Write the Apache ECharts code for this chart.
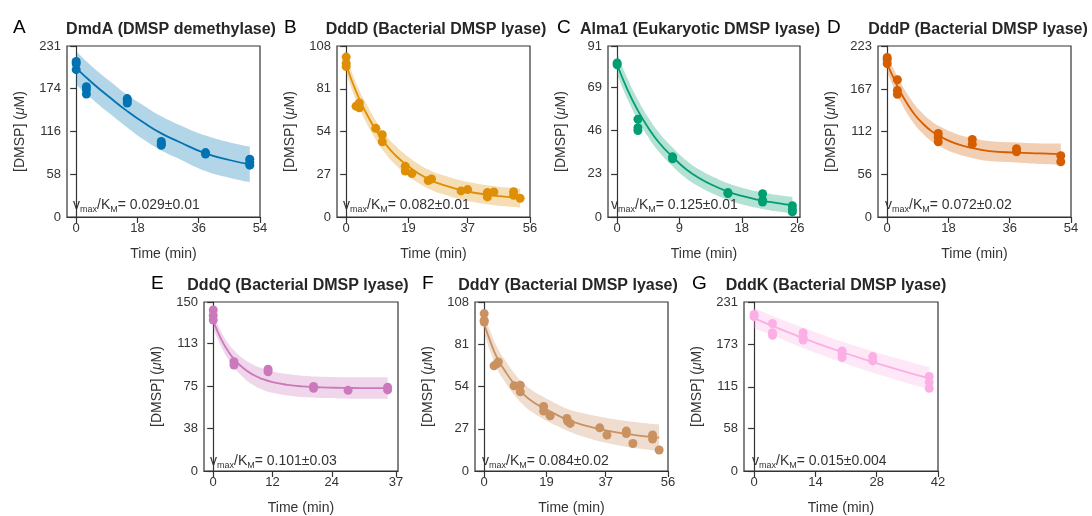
<!DOCTYPE html>
<html>
<head>
<meta charset="utf-8">
<script src="https://cdn.jsdelivr.net/npm/echarts@6/dist/echarts.min.js"></script>
<style>
  html, body { margin: 0; padding: 0; background: #fff; }
  #chart { width: 1092px; height: 516px; }
</style>
</head>
<body>
<div id="chart"></div>
<script>
// ---- data ----
var titles = ['DmdA (DMSP demethylase)', 'DddD (Bacterial DMSP lyase)', 'Alma1 (Eukaryotic DMSP lyase)',
  'DddP (Bacterial DMSP lyase)', 'DddQ (Bacterial DMSP lyase)', 'DddY (Bacterial DMSP lyase)', 'DddK (Bacterial DMSP lyase)'];
var letters = ['A', 'B', 'C', 'D', 'E', 'F', 'G'];
var rates = ['0.029±0.01', '0.082±0.01', '0.125±0.01', '0.072±0.02', '0.101±0.03', '0.084±0.02', '0.015±0.004'];
var colors = ['#0173B2', '#DE8F05', '#029E73', '#D55E00', '#CC78BC', '#CA9161', '#FBAFE4'];

// DmdA
var dmdaPtT = [0, 0, 0, 3, 3, 3, 15, 15, 15, 25, 25, 25, 38, 38, 51, 51, 51];
var dmdaPtY = [210, 207, 199, 176, 172, 166, 160, 157, 154, 102, 99, 97, 87, 85, 78, 74, 70];
var dmdaFitT = [0, 5, 10, 15, 20, 25, 30, 38, 45, 51];
var dmdaFit = [201, 180, 161, 143, 127, 113, 102, 86, 77, 71];
var dmdaHi = [224, 202, 183, 165, 150, 136, 125, 110, 101, 95];
var dmdaLo = [179, 158, 139, 121, 104, 90, 79, 62, 53, 47];
var dmdaXTicks = [0, 18, 36, 54];
var dmdaYTicks = [0, 58, 116, 174, 231];

// DddD
var dddDPtT = [0, 0, 0, 3, 4, 4, 9, 11, 11, 18, 18, 20, 25, 26, 35, 37, 43, 43, 45, 51, 51, 53];
var dddDPtY = [101, 97, 95, 70, 72, 69, 56, 52, 47.5, 32, 29, 27.5, 23, 24, 16.5, 17.3, 15.4, 12.7, 15.8, 16, 13.7, 11.8];
var dddDFitT = [0, 2, 4, 6, 9, 12, 15, 18, 22, 26, 30, 35, 40, 45, 50, 53];
var dddDFit = [96, 84.5, 74.5, 66, 55, 46, 39, 33.5, 27.5, 23, 20, 17, 15, 13.5, 12.5, 12];
var dddDHi = [101, 90, 80, 72, 61, 52, 45, 39.5, 33.5, 29, 26, 23, 21, 19.5, 18.5, 18];
var dddDLo = [91, 79, 69, 60, 49, 40, 33, 27.5, 21.5, 17, 14, 11, 9, 7.5, 6.5, 6];
var dddDXTicks = [0, 19, 37, 56];
var dddDYTicks = [0, 27, 54, 81, 108];

// Alma1
var almaPtT = [0, 0, 3, 3, 3, 8, 8, 16, 16, 21, 21, 21, 25.3, 25.3, 25.3];
var almaPtY = [82, 81, 52, 47.5, 46, 32, 31, 13, 12.5, 12.4, 9, 8, 6, 4, 2.7];
var almaFitT = [0, 1.5, 3, 4.5, 6, 8, 10, 12, 14, 16, 18, 20, 22, 24, 25.3];
var almaFit = [81, 67.7, 56.6, 47.4, 39.8, 32, 25.3, 20.4, 16.6, 13.5, 11.2, 9.4, 8, 6.9, 6.3];
var almaHi = [87, 73.7, 62.4, 52.9, 45.1, 37, 30.1, 25, 21.1, 17.9, 15.6, 13.8, 12.4, 11.3, 10.7];
var almaLo = [76, 62.7, 51.6, 42.4, 34.8, 27, 20.5, 15.8, 12.1, 9.1, 6.8, 5, 3.6, 2.5, 1.9];
var almaXTicks = [0, 9, 18, 26];
var almaYTicks = [0, 23, 46, 69, 91];

// DddP
var dddPPtT = [0, 0, 0, 3, 3, 3, 15, 15, 15, 25, 25, 38, 38, 51, 51];
var dddPPtY = [208, 205, 200, 179, 165, 160, 109, 104, 98, 101, 95, 89, 85, 80, 72];
var dddPFitT = [0, 2, 4, 6, 8, 10, 13, 16, 20, 25, 30, 38, 45, 51];
var dddPFit = [200, 180, 162, 147, 134, 124, 112, 104, 96, 90, 86, 84, 83, 82];
var dddPHi = [211, 192, 175, 160, 147, 137, 125, 117, 109, 103, 99, 97, 96, 96];
var dddPLo = [189, 168, 150, 134, 121, 111, 99, 91, 83, 77, 73, 71, 69, 68];
var dddPXTicks = [0, 18, 36, 54];
var dddPYTicks = [0, 56, 112, 167, 223];

// DddQ
var dddQPtT = [0, 0, 0, 4.2, 4.2, 11.1, 11.1, 20.3, 20.3, 27.3, 35.3, 35.3];
var dddQPtY = [143, 138, 134, 97, 94, 90.4, 88, 75, 73.4, 71.6, 74.3, 72];
var dddQFitT = [0, 1, 2, 3, 4, 6, 8, 10, 12, 15, 18, 22, 26, 30, 35.3];
var dddQFit = [133, 122.6, 113.7, 106.4, 100.4, 91.6, 85.6, 81.6, 78.9, 76.5, 75.1, 74.2, 73.8, 73.6, 73.5];
var dddQHi = [139, 129, 120.5, 113.5, 108, 100, 94.5, 91, 88.4, 86, 84.6, 83.7, 83.3, 83.1, 83];
var dddQLo = [127, 116, 107, 99.5, 93, 83.5, 76.5, 72.2, 69.4, 67, 65.6, 64.7, 64.3, 64.1, 64];
var dddQXTicks = [0, 12, 24, 37];
var dddQYTicks = [0, 38, 75, 113, 150];

// DddY
var dddYPtT = [0, 0, 0, 3, 4, 4.3, 9.1, 11, 11, 18.1, 18.1, 20.1, 25.2, 25.4, 26.2, 35.2, 37.4, 43.3, 43.3, 45.3, 51.3, 51.3, 53.3];
var dddYPtY = [100.6, 96.3, 95.2, 67.2, 68.7, 69.7, 54.4, 54.8, 50.6, 41.2, 38.3, 35.3, 33.6, 31.9, 30.4, 27.6, 23, 25.5, 24, 17.6, 23, 20.4, 13.4];
var dddYFitT = [0, 2, 4, 6, 9, 12, 15, 18, 22, 25, 30, 37, 44, 50, 53.3];
var dddYFit = [94, 82, 72, 65, 56, 49, 44, 40.4, 36, 33, 29.5, 26, 23.5, 22, 21.3];
var dddYHi = [100, 88.5, 79, 72, 63, 56, 51, 47.5, 43, 40, 37, 34, 31.8, 30.4, 29.8];
var dddYLo = [88, 75.5, 65, 58, 49, 42, 37, 33.3, 29, 26, 22, 18, 15.2, 13.6, 12.8];
var dddYXTicks = [0, 19, 37, 56];
var dddYYTicks = [0, 27, 54, 81, 108];

// DddK
var dddKPtT = [0, 0, 4.2, 4.2, 4.2, 11.2, 11.2, 11.2, 20.1, 20.1, 20.1, 27.1, 27.1, 40, 40, 40];
var dddKPtY = [214, 211, 201.6, 189, 185.4, 189, 182.3, 179, 164, 159.6, 155, 156.4, 150.5, 129.3, 121.2, 113];
var dddKFitT = [0, 5, 10, 15, 20, 25, 30, 35, 40];
var dddKFit = [209, 196.3, 184.4, 173.2, 162.8, 152.9, 143.6, 134.9, 126.7];
var dddKHi = [223, 210, 198.5, 187.5, 177, 167.5, 158.5, 150, 142];
var dddKLo = [195, 183, 171, 159.5, 148.5, 138.5, 129, 120, 112];
var dddKXTicks = [0, 14, 28, 42];
var dddKYTicks = [0, 58, 115, 173, 231];

// ---- layout ----
var panels = [
  { ptT: dmdaPtT, ptY: dmdaPtY, fitT: dmdaFitT, fit: dmdaFit, hi: dmdaHi, lo: dmdaLo, xt: dmdaXTicks, yt: dmdaYTicks, xmin: -2.7, xmax: 54,
    left: 67, top: 46, width: 193, titleX: 171, letterX: 13, noteX: 73 },
  { ptT: dddDPtT, ptY: dddDPtY, fitT: dddDFitT, fit: dddDFit, hi: dddDHi, lo: dddDLo, xt: dddDXTicks, yt: dddDYTicks, xmin: -2.8, xmax: 56,
    left: 337, top: 46, width: 193, titleX: 436, letterX: 284, noteX: 343 },
  { ptT: almaPtT, ptY: almaPtY, fitT: almaFitT, fit: almaFit, hi: almaHi, lo: almaLo, xt: almaXTicks, yt: almaYTicks, xmin: -1.32, xmax: 26.4,
    left: 608, top: 46, width: 192, titleX: 700, letterX: 557, noteX: 611 },
  { ptT: dddPPtT, ptY: dddPPtY, fitT: dddPFitT, fit: dddPFit, hi: dddPHi, lo: dddPLo, xt: dddPXTicks, yt: dddPYTicks, xmin: -2.7, xmax: 54,
    left: 878, top: 46, width: 193, titleX: 978, letterX: 827, noteX: 885 },
  { ptT: dddQPtT, ptY: dddQPtY, fitT: dddQFitT, fit: dddQFit, hi: dddQHi, lo: dddQLo, xt: dddQXTicks, yt: dddQYTicks, xmin: -1.87, xmax: 37.4,
    left: 204, top: 302, width: 194, titleX: 298, letterX: 151, noteX: 210 },
  { ptT: dddYPtT, ptY: dddYPtY, fitT: dddYFitT, fit: dddYFit, hi: dddYHi, lo: dddYLo, xt: dddYXTicks, yt: dddYYTicks, xmin: -2.8, xmax: 56,
    left: 475, top: 302, width: 193, titleX: 568, letterX: 422, noteX: 482 },
  { ptT: dddKPtT, ptY: dddKPtY, fitT: dddKFitT, fit: dddKFit, hi: dddKHi, lo: dddKLo, xt: dddKXTicks, yt: dddKYTicks, xmin: -2.3, xmax: 42,
    left: 744, top: 302, width: 194, titleX: 836, letterX: 692, noteX: 752 }
];

var FONT = '"Liberation Sans", Arial, Helvetica, sans-serif';
var INK = '#333';
var plotH = 171;

function pairs(xs, ys) {
  return xs.map(function (x, i) { return [x, ys[i]]; });
}

// value first, time second, so the stack sums the y values
function bandRows(ts, vs) {
  return ts.map(function (t, i) { return [vs[i], t]; });
}

function hexAlpha(hex, a) {
  var n = parseInt(hex.slice(1), 16);
  return 'rgba(' + (n >> 16) + ',' + ((n >> 8) & 255) + ',' + (n & 255) + ',' + a + ')';
}

var grids = [], xAxes = [], yAxes = [], series = [], graphics = [];

panels.forEach(function (p, i) {
  var c = colors[i];
  grids.push({
    left: p.left, top: p.top, width: p.width, height: plotH,
    show: true, borderColor: INK, borderWidth: 1.2, backgroundColor: 'transparent'
  });
  xAxes.push({
    type: 'value', gridIndex: i, min: p.xmin, max: p.xmax,
    splitLine: { show: false },
    axisLine: { show: true, lineStyle: { color: INK, width: 1.2 } },
    axisTick: { show: true, length: 6, customValues: p.xt, lineStyle: { color: INK, width: 1.2 } },
    axisLabel: { customValues: p.xt, fontSize: 13, color: INK, margin: 5, fontFamily: FONT },
    name: 'Time (min)', nameLocation: 'middle', nameGap: 30,
    nameTextStyle: { fontSize: 14, color: INK, fontFamily: FONT }
  });
  yAxes.push({
    type: 'value', gridIndex: i, min: 0, max: p.yt[p.yt.length - 1],
    splitLine: { show: false },
    axisLine: { show: true, lineStyle: { color: INK, width: 1.2 } },
    axisTick: { show: true, length: 6, customValues: p.yt, lineStyle: { color: INK, width: 1.2 } },
    axisLabel: { customValues: p.yt, fontSize: 13, color: INK, margin: 6, fontFamily: FONT },
    name: '[DMSP] ({it|μ}M)', nameLocation: 'middle', nameGap: 40,
    nameTextStyle: {
      fontSize: 14, color: INK, fontFamily: FONT,
      rich: { it: { fontSize: 14, fontStyle: 'italic', color: INK, fontFamily: FONT } }
    }
  });

  // confidence band: invisible lower edge + stacked width
  var diff = p.hi.map(function (h, k) { return h - p.lo[k]; });
  series.push({
    type: 'line', xAxisIndex: i, yAxisIndex: i, stack: 'band' + i, smooth: true,
    symbol: 'none', silent: true, lineStyle: { opacity: 0 },
    encode: { x: 1, y: 0 },
    data: bandRows(p.fitT, p.lo)
  });
  series.push({
    type: 'line', xAxisIndex: i, yAxisIndex: i, stack: 'band' + i, smooth: true,
    symbol: 'none', silent: true, lineStyle: { opacity: 0 },
    areaStyle: { color: hexAlpha(c, 0.3), opacity: 1 },
    encode: { x: 1, y: 0 },
    data: bandRows(p.fitT, diff)
  });
  series.push({
    type: 'line', xAxisIndex: i, yAxisIndex: i, smooth: true, symbol: 'none',
    lineStyle: { color: c, width: 1.8 }, z: 3,
    data: pairs(p.fitT, p.fit)
  });
  series.push({
    type: 'scatter', xAxisIndex: i, yAxisIndex: i, symbolSize: 9, z: 4,
    itemStyle: { color: c, opacity: 1 },
    data: pairs(p.ptT, p.ptY)
  });

  var rowTop = p.top;
  graphics.push({
    type: 'text', left: p.letterX, top: rowTop - 28,
    style: { text: letters[i], fontSize: 19, fill: '#000', fontFamily: FONT }
  });
  graphics.push({
    type: 'text', x: p.titleX, y: rowTop - 16,
    style: { text: titles[i], fontSize: 16, fontWeight: 'bold', fill: '#262626', fontFamily: FONT,
      align: 'center', verticalAlign: 'middle' }
  });
  graphics.push({
    type: 'text', x: p.noteX, y: rowTop + plotH - 12, z: 10,
    style: {
      text: 'v{sub|max}/K{sub|M}= ' + rates[i],
      fontSize: 14, fill: INK, fontFamily: FONT, align: 'left', verticalAlign: 'middle',
      rich: { sub: { fontSize: 9, fill: INK, fontFamily: FONT, padding: [9, 0, 0, 0] } }
    }
  });
});

var chart = echarts.init(document.getElementById('chart'), null, { renderer: 'canvas' });
chart.setOption({
  animation: false,
  backgroundColor: '#fff',
  grid: grids,
  xAxis: xAxes,
  yAxis: yAxes,
  series: series,
  graphic: graphics
});
</script>
</body>
</html>
